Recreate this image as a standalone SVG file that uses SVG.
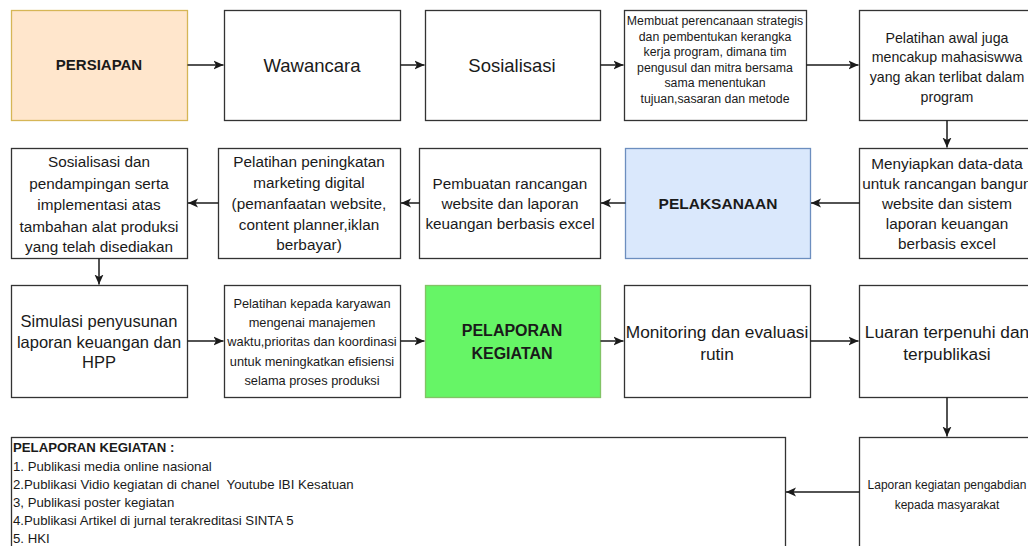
<svg xmlns="http://www.w3.org/2000/svg" width="1028" height="546" viewBox="0 0 1028 546">
<style>
.box{fill:#ffffff;stroke:#333333;stroke-width:1.3}
.t{font-family:"Liberation Sans",Arial,sans-serif;fill:#1a1a1a;text-anchor:middle}
.b{font-weight:bold}
.c{fill:none;stroke:#1a1a1a;stroke-width:1.5}
.l{font-family:"Liberation Sans",Arial,sans-serif;fill:#1a1a1a;font-size:13.2px}
</style>
<defs>
<marker id="ah" viewBox="0 0 10 10" refX="10" refY="5" markerWidth="10" markerHeight="10" markerUnits="userSpaceOnUse" orient="auto">
<path d="M0,0.5 L10,5 L0,9.5 L2.5,5 Z" fill="#1a1a1a"/>
</marker>
</defs>
<rect width="1028" height="546" fill="#ffffff"/>

<g id="persiapan"><rect x="11.5" y="10.5" width="176" height="110" fill="#ffe6cc" stroke="#d6b656" stroke-width="1.3"/><text class="t b" x="99" y="70" font-size="15">PERSIAPAN</text></g>
<g id="wawancara"><rect class="box" x="224.5" y="10.5" width="176" height="110"/><text class="t" x="312" y="72" font-size="18.5">Wawancara</text></g>
<g id="sosialisasi"><rect class="box" x="425.5" y="10.5" width="175" height="110"/><text class="t" x="512" y="72" font-size="18.5">Sosialisasi</text></g>
<g id="membuat"><rect class="box" x="624.5" y="10.5" width="182" height="110"/>
<text class="t" font-size="12.3"><tspan x="715" y="25">Membuat perencanaan strategis</tspan><tspan x="715" y="40.5">dan pembentukan kerangka</tspan><tspan x="715" y="56">kerja program, dimana tim</tspan><tspan x="715" y="71.5">pengusul dan mitra bersama</tspan><tspan x="715" y="87">sama menentukan</tspan><tspan x="715" y="102.5">tujuan,sasaran dan metode</tspan></text></g>
<g id="pelatihan-awal"><rect class="box" x="859.5" y="10.5" width="176" height="110"/>
<text class="t" font-size="14.2"><tspan x="947" y="43">Pelatihan awal juga</tspan><tspan x="947" y="62">mencakup mahasiswwa</tspan><tspan x="947" y="82">yang akan terlibat dalam</tspan><tspan x="947" y="102">program</tspan></text></g>

<g id="sosialisasi-pendampingan"><rect class="box" x="11.5" y="148.5" width="176" height="110"/>
<text class="t" font-size="15.3"><tspan x="99" y="167">Sosialisasi dan</tspan><tspan x="99" y="188.5">pendampingan serta</tspan><tspan x="99" y="210">implementasi atas</tspan><tspan x="99" y="231.5">tambahan alat produksi</tspan><tspan x="99" y="252">yang telah disediakan</tspan></text></g>
<g id="pelatihan-marketing"><rect class="box" x="218.5" y="148.5" width="182" height="110"/>
<text class="t" font-size="15.3"><tspan x="309" y="167">Pelatihan peningkatan</tspan><tspan x="309" y="188">marketing digital</tspan><tspan x="309" y="209">(pemanfaatan website,</tspan><tspan x="309" y="230">content planner,iklan</tspan><tspan x="309" y="250">berbayar)</tspan></text></g>
<g id="pembuatan"><rect class="box" x="419.5" y="148.5" width="181" height="110"/>
<text class="t" font-size="15.3"><tspan x="510" y="189">Pembuatan rancangan</tspan><tspan x="510" y="209">website dan laporan</tspan><tspan x="510" y="229">keuangan berbasis excel</tspan></text></g>
<g id="pelaksanaan"><rect x="625.5" y="148.5" width="185" height="110" fill="#dae8fc" stroke="#6c8ebf" stroke-width="1.3"/><text class="t b" x="718" y="209" font-size="15.5">PELAKSANAAN</text></g>
<g id="menyiapkan"><rect class="box" x="859.5" y="148.5" width="176" height="110"/>
<text class="t" font-size="15.3"><tspan x="947" y="169">Menyiapkan data-data</tspan><tspan x="947" y="189">untuk rancangan bangun</tspan><tspan x="947" y="209">website dan sistem</tspan><tspan x="947" y="229">laporan keuangan</tspan><tspan x="947" y="249">berbasis excel</tspan></text></g>

<g id="simulasi"><rect class="box" x="11.5" y="285.5" width="176" height="112"/>
<text class="t" font-size="16.5"><tspan x="99" y="327">Simulasi penyusunan</tspan><tspan x="99" y="347.5">laporan keuangan dan</tspan><tspan x="99" y="368">HPP</tspan></text></g>
<g id="pelatihan-karyawan"><rect class="box" x="224.5" y="285.5" width="176" height="112"/>
<text class="t" font-size="12.8"><tspan x="312" y="308">Pelatihan kepada karyawan</tspan><tspan x="312" y="327">mengenai manajemen</tspan><tspan x="312" y="346">waktu,prioritas dan koordinasi</tspan><tspan x="312" y="366">untuk meningkatkan efisiensi</tspan><tspan x="312" y="385">selama proses produksi</tspan></text></g>
<g id="pelaporan"><rect x="425.5" y="285.5" width="175" height="112" fill="#66f566" stroke="#82c366" stroke-width="1.3"/>
<text class="t b" font-size="16"><tspan x="512" y="336">PELAPORAN</tspan><tspan x="512" y="359">KEGIATAN</tspan></text></g>
<g id="monitoring"><rect class="box" x="624.5" y="285.5" width="186" height="112"/>
<text class="t" font-size="17.3"><tspan x="717" y="338">Monitoring dan evaluasi</tspan><tspan x="717" y="360">rutin</tspan></text></g>
<g id="luaran"><rect class="box" x="859.5" y="285.5" width="176" height="112"/>
<text class="t" font-size="17.3"><tspan x="947" y="338">Luaran terpenuhi dan</tspan><tspan x="947" y="360">terpublikasi</tspan></text></g>

<g id="laporan"><rect class="box" x="859.5" y="437.5" width="176" height="120"/>
<text class="t" font-size="12"><tspan x="947" y="489">Laporan kegiatan pengabdian</tspan><tspan x="947" y="509">kepada masyarakat</tspan></text></g>
<g id="daftar-pelaporan"><rect class="box" x="11.5" y="437.5" width="774" height="120"/>
<text class="l" xml:space="preserve"><tspan x="13" y="452" font-weight="bold">PELAPORAN KEGIATAN :</tspan><tspan x="13" y="470.5">1. Publikasi media online nasional</tspan><tspan x="13" y="488.5">2.Publikasi Vidio kegiatan di chanel  Youtube IBI Kesatuan</tspan><tspan x="13" y="506.5">3, Publikasi poster kegiatan</tspan><tspan x="13" y="524.5">4.Publikasi Artikel di jurnal terakreditasi SINTA 5</tspan><tspan x="13" y="542.5">5. HKI</tspan></text></g>

<g id="connectors">
<path class="c" d="M187.5,65 H223.5" marker-end="url(#ah)"/>
<path class="c" d="M400.5,65 H424.5" marker-end="url(#ah)"/>
<path class="c" d="M600.5,65 H623.5" marker-end="url(#ah)"/>
<path class="c" d="M806.5,65 H858.5" marker-end="url(#ah)"/>
<path class="c" d="M947,120.5 V147.5" marker-end="url(#ah)"/>
<path class="c" d="M859.5,203 H811" marker-end="url(#ah)"/>
<path class="c" d="M625.5,203 H601" marker-end="url(#ah)"/>
<path class="c" d="M419.5,203 H401" marker-end="url(#ah)"/>
<path class="c" d="M218.5,203 H188" marker-end="url(#ah)"/>
<path class="c" d="M99,258.5 V284.5" marker-end="url(#ah)"/>
<path class="c" d="M187.5,341 H223.5" marker-end="url(#ah)"/>
<path class="c" d="M400.5,341 H424.5" marker-end="url(#ah)"/>
<path class="c" d="M600.5,341 H623.5" marker-end="url(#ah)"/>
<path class="c" d="M810.5,341 H858.5" marker-end="url(#ah)"/>
<path class="c" d="M947,397.5 V436.5" marker-end="url(#ah)"/>
<path class="c" d="M859.5,492 H786" marker-end="url(#ah)"/>
</g>
</svg>
